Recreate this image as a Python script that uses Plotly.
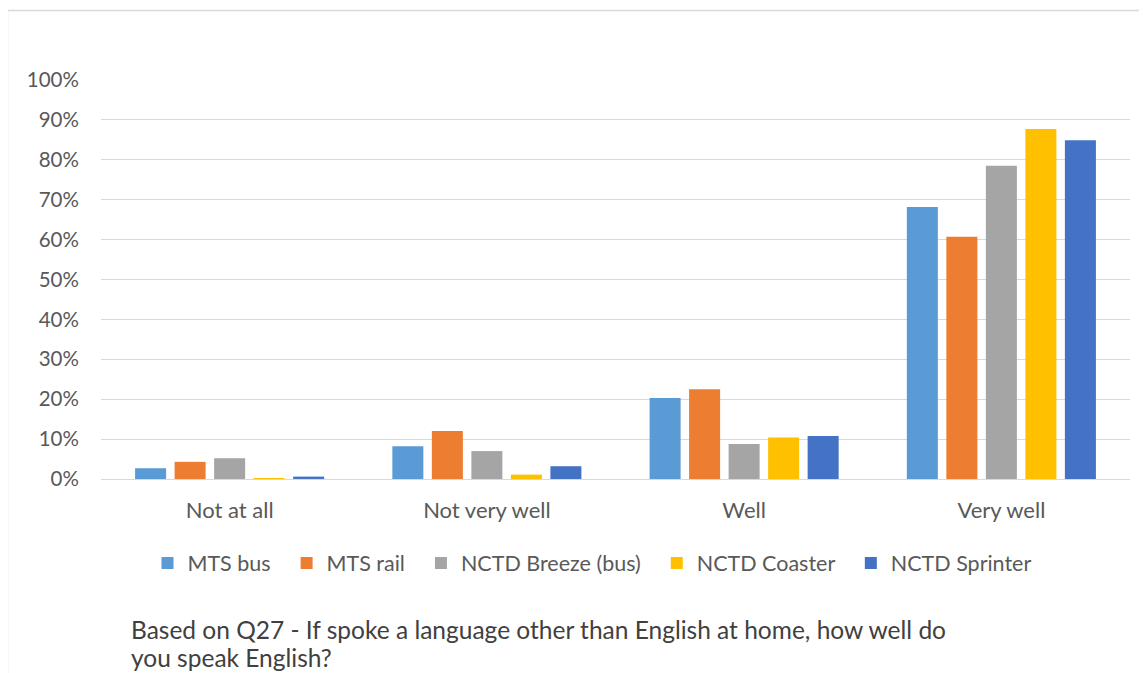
import plotly.graph_objects as go

categories = ["Not at all", "Not very well", "Well", "Very well"]
series_names = ["MTS bus", "MTS rail", "NCTD Breeze (bus)", "NCTD Coaster", "NCTD Sprinter"]
mts_bus = [0.027, 0.082, 0.203, 0.682]
mts_rail = [0.043, 0.120, 0.225, 0.607]
nctd_breeze = [0.052, 0.070, 0.088, 0.785]
nctd_coaster = [0.002, 0.011, 0.104, 0.877]
nctd_sprinter = [0.006, 0.032, 0.108, 0.849]
y_ticks = [0, 0.1, 0.2, 0.3, 0.4, 0.5, 0.6, 0.7, 0.8, 0.9, 1.0]
colors = ["#5B9BD5", "#ED7D31", "#A5A5A5", "#FFC000", "#4472C4"]
caption_lines = ["Based on Q27 - If spoke a language other than English at home, how well do",
                 "you speak English?"]

# page body adds an 8px offset; work in reference pixel coords minus 8
OFF = 8
W, H = 1147 - OFF, 673 - OFF
L, R, T, B = 101 - OFF, 17, 80 - OFF, 194
pw, ph = W - L - R, H - T - B

def px(x):
    return (x - OFF - L) / pw

def py(y):
    return (H - B - (y - OFF)) / ph

fig = go.Figure()
all_series = [mts_bus, mts_rail, nctd_breeze, nctd_coaster, nctd_sprinter]
for i, (name, vals, c) in enumerate(zip(series_names, all_series, colors)):
    pad = "\u00a0\u00a0" if i < len(series_names) - 1 else ""
    fig.add_trace(go.Bar(name=name + pad, x=categories, y=vals, marker_color=c,
                         marker_line_width=0))

font = "Lato, Carlito, Calibri, sans-serif"
fig.update_layout(
    width=W, height=H,
    margin=dict(l=L, r=R, t=T, b=B, autoexpand=False),
    paper_bgcolor="white", plot_bgcolor="white",
    barmode="group", bargap=0.232, bargroupgap=0.215,
    font=dict(family=font, size=20, color="#595959"),
    showlegend=True,
    legend=dict(orientation="h", x=px(592), xanchor="center", y=py(563), yanchor="middle",
                font=dict(size=21.5, color="#595959"), itemwidth=30, traceorder="normal"),
    xaxis=dict(showgrid=False, showline=False, ticks="outside", ticklen=12,
               tickcolor="rgba(0,0,0,0)", tickfont=dict(size=22, color="#595959")),
    yaxis=dict(range=[0, 1.0], tickvals=y_ticks, tickformat=".0%", showgrid=True,
               gridcolor="#D9D9D9", gridwidth=1, zeroline=True, zerolinecolor="#D9D9D9",
               zerolinewidth=1, showline=False, ticks="outside", ticklen=17,
               tickcolor="rgba(0,0,0,0)", tickfont=dict(size=20.5, color="#595959")),
)

fig.add_shape(type="rect", xref="paper", yref="paper",
              x0=px(7.5), x1=px(1250), y0=py(10.5), y1=py(800),
              line=dict(color="#D9D9D9", width=1.5), fillcolor="rgba(0,0,0,0)", layer="below")

for line, ypix in zip(caption_lines, [629, 657]):
    fig.add_annotation(text=line, xref="paper", yref="paper", x=px(129), y=py(ypix),
                       xanchor="left", yanchor="middle", showarrow=False,
                       font=dict(size=24.5, color="#404040", family=font))

fig.write_html("out.html")
